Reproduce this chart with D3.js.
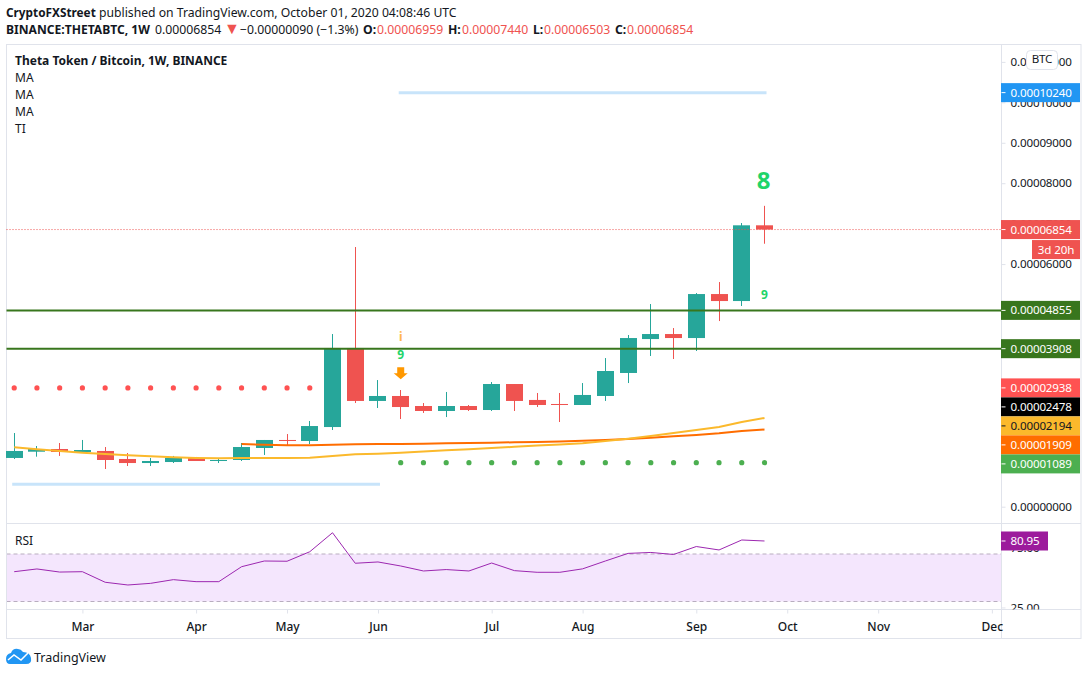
<!DOCTYPE html>
<html>
<head>
<meta charset="utf-8">
<script src="https://cdn.jsdelivr.net/npm/d3@7"></script>
<style>
    html, body { margin: 0; padding: 0; background: #fff; }
    svg { display: block; }
    text { font-family: "Noto Sans", sans-serif; fill: #131722; }
    .axisText { font-size: 11.6px; letter-spacing: -0.15px; }
</style>
</head>
<body>
<svg id="viz" width="1088" height="675"></svg>
<script>
// weekly bars, prices in satoshi (1e-8 BTC)
const weeks = ["2020-02-10","2020-02-17","2020-02-24","2020-03-02","2020-03-09","2020-03-16","2020-03-23","2020-03-30",
    "2020-04-06","2020-04-13","2020-04-20","2020-04-27","2020-05-04","2020-05-11","2020-05-18","2020-05-25","2020-06-01",
    "2020-06-08","2020-06-15","2020-06-22","2020-06-29","2020-07-06","2020-07-13","2020-07-20","2020-07-27","2020-08-03",
    "2020-08-10","2020-08-17","2020-08-24","2020-08-31","2020-09-07","2020-09-14","2020-09-21","2020-09-28"];
const opens = [1205,1360,1427,1353,1378,1180,1080,1105,1205,1130,1155,1452,1650,1625,1970,3925,2615,
    2738,2490,2367,2490,2391,3034,2640,2540,2515,2738,3307,4146,4270,4171,5259,5086,6959];
const highs = [1822,1501,1575,1650,1476,1328,1205,1255,1230,1205,1575,1650,1797,2119,4270,6422,3132,
    2886,2564,2837,2515,3083,3034,2812,2812,3058,3676,4246,5012,4418,5283,5556,7015,7440];
const lows = [1180,1237,1255,1328,932,1006,1006,1080,1130,1080,1130,1279,1525,1550,1897,2564,2441,
    2168,2318,2217,2367,2367,2367,2465,2094,2515,2615,3058,3727,3652,3851,4591,4963,6503];
const closes = [1378,1427,1353,1402,1155,1080,1130,1205,1130,1155,1476,1650,1625,1995,3925,2615,2738,
    2465,2367,2490,2391,3034,2615,2515,2515,2763,3356,4171,4270,4171,5259,5086,6959,6854];
const maYellow = [1469,1420,1377,1335,1303,1271,1246,1222,1204,1197,1204,1204,1204,1212,1254,1296,1311,
    1335,1365,1395,1422,1452,1481,1511,1538,1568,1625,1682,1748,1823,1897,1971,2095,2194];
// the orange MA starts at the 11th bar
const maOrange = [null,null,null,null,null,null,null,null,null,null,1551,1533,1518,1518,1533,1543,1551,
    1551,1558,1568,1575,1583,1593,1600,1612,1632,1650,1674,1706,1741,1773,1815,1872,1909];
const rsi = [55.1,57.4,54.8,55.1,46.2,43.9,45.3,48.4,46.7,46.7,59.3,64.1,63.9,71.9,87.9,62.2,63.3,
    59.9,55.7,56.9,55.7,62.4,56.0,54.6,54.6,57.5,64.1,70.5,71.3,69.6,76.3,73.4,81.8,80.95];

const resistance = 2938;   // red dots, first 14 bars
const support = 1089;      // green dots, last 17 bars
const stopLow = 554;       // light blue line, first 17 bars
const stopHigh = 10240;    // light blue line, last 17 bars
const levels = [4855, 3908];
// 1000-4000 sit fully behind the axis tags, so they are left out
const priceTicks = [0,5000,6000,7000,8000,9000,10000,11000];
const monthTicks = ["2020-03-02","2020-04-06","2020-05-04","2020-06-01","2020-07-06","2020-08-03","2020-09-07",
    "2020-10-05","2020-11-02","2020-12-07"];
const rsiTicks = [75, 25];
const rsiBand = [70, 30];
const axisTags = [
    {value: 2938, color: "#ff5252", text: "#fff"},
    {value: 2478, color: "#000000", text: "#fff"},
    {value: 2194, color: "#fbb92c", text: "#131722"},
    {value: 1909, color: "#ff6d00", text: "#fff"},
    {value: 1089, color: "#4caf50", text: "#fff"}
];

const UP = "#26a69a", DOWN = "#ef5350", GRID = "#e0e3eb", LEVEL = "#38761d";
const paneLeft = 6.5, paneRight = 1001.5, outer = 1081, paneTop = 44.5, rsiTop = 523.5, axisTop = 609.5, paneBottom = 638.5;

const parse = d3.utcParse("%Y-%m-%d");
const fmt = (d) => (d / 1e8).toFixed(8);
const bars = weeks.map((w, i) => ({
    date: parse(w), open: opens[i], high: highs[i], low: lows[i], close: closes[i]
}));

const x = d3.scaleUtc().domain([parse(weeks[0]), parse(weeks[33])]).range([14.2, 764.5]);
const y = d3.scaleLinear().domain([0, 11000]).range([506.7, 61.9]);
const yRsi = d3.scaleLinear().domain([30, 70]).range([601.5, 554]);

const svg = d3.select("#viz");

// header
const head1 = svg.append("text").attr("y", 17).style("font-size", "12.2px");
head1.append("tspan").attr("x", 6).style("font-size", "11.8px").style("font-weight", 700).text("CryptoFXStreet");
head1.append("tspan").attr("x", 99).text("published on TradingView.com, October 01, 2020 04:08:46 UTC");

const head2 = svg.append("text").attr("y", 34).style("font-size", "12.25px");
head2.append("tspan").attr("x", 6).style("font-size", "12.1px").style("font-weight", 700).text("BINANCE:THETABTC, 1W");
head2.append("tspan").attr("x", 155).text(fmt(closes[33]));
head2.append("tspan").attr("x", 224).style("fill", DOWN).style("font-size", "16px").text("▼");
head2.append("tspan").attr("x", 240).text("−0.00000090 (−1.3%)");
[["O:", opens[33], 363, 377], ["H:", highs[33], 448, 462], ["L:", lows[33], 533, 544], ["C:", closes[33], 615, 627]].forEach(([k, v, kx, vx]) => {
    head2.append("tspan").attr("x", kx).style("font-weight", 700).text(k);
    head2.append("tspan").attr("x", vx).style("fill", DOWN).text(fmt(v));
});

// rsi band goes under everything
svg.append("rect")
    .attr("x", paneLeft).attr("y", yRsi(rsiBand[0]))
    .attr("width", paneRight - paneLeft).attr("height", yRsi(rsiBand[1]) - yRsi(rsiBand[0]))
    .attr("fill", "#f4e6fd");
svg.selectAll(".band")
    .data(rsiBand)
    .enter()
    .append("line")
    .attr("x1", paneLeft).attr("x2", paneRight)
    .attr("y1", (d) => yRsi(d)).attr("y2", (d) => yRsi(d))
    .attr("stroke", "#b8adbf").attr("stroke-dasharray", "4 3");

// frame
svg.append("rect").attr("x", paneLeft).attr("y", paneTop).attr("width", outer - paneLeft).attr("height", paneBottom - paneTop)
    .attr("fill", "none").attr("stroke", GRID);
[rsiTop, axisTop].forEach((v) => {
    svg.append("line").attr("x1", paneLeft).attr("x2", outer).attr("y1", v).attr("y2", v).attr("stroke", GRID);
});
svg.append("line").attr("x1", paneRight).attr("x2", paneRight).attr("y1", paneTop).attr("y2", paneBottom).attr("stroke", GRID);

// legend
svg.selectAll(".legend")
    .data(["Theta Token / Bitcoin, 1W, BINANCE", "MA", "MA", "MA", "TI"])
    .enter()
    .append("text")
    .attr("x", 15)
    .attr("y", (d, i) => 65 + i * 17)
    .style("font-size", "12px")
    .style("font-weight", (d, i) => i === 0 ? 700 : 400)
    .text((d) => d);

// axes
const priceAxis = svg.append("g")
    .attr("transform", `translate(${paneRight},0)`)
    .call(d3.axisRight(y).tickValues(priceTicks).tickSize(4).tickPadding(5).tickFormat(fmt));
svg.append("clipPath").attr("id", "rsiClip").append("rect")
    .attr("x", paneRight).attr("y", rsiTop).attr("width", 80).attr("height", axisTop - rsiTop);
const rsiAxis = svg.append("g")
    .attr("clip-path", "url(#rsiClip)")
    .append("g")
    .attr("transform", `translate(${paneRight},0)`)
    .call(d3.axisRight(yRsi).tickValues(rsiTicks).tickSize(4).tickPadding(5).tickFormat((d) => d.toFixed(2)));
const timeAxis = svg.append("g")
    .attr("transform", `translate(0,${axisTop})`)
    .call(d3.axisBottom(x).tickValues(monthTicks.map(parse)).tickSize(4).tickPadding(9).tickFormat(d3.utcFormat("%b")));
[priceAxis, rsiAxis, timeAxis].forEach((g) => {
    g.attr("font-family", null).attr("font-size", null);
    g.select(".domain").remove();
    g.selectAll("line").attr("stroke", GRID);
    g.selectAll("text").attr("class", "axisText").attr("fill", null);
});
timeAxis.selectAll("text").attr("class", null).style("font-size", "12px").style("font-weight", 500);

// candles
const candle = svg.selectAll(".candle")
    .data(bars)
    .enter()
    .append("g")
    .attr("class", "candle");
candle.append("line")
    .attr("x1", (d) => Math.floor(x(d.date)) + 0.5)
    .attr("x2", (d) => Math.floor(x(d.date)) + 0.5)
    .attr("y1", (d) => y(d.high))
    .attr("y2", (d) => y(d.low))
    .attr("stroke", (d) => d.close >= d.open ? UP : DOWN);
candle.append("rect")
    .attr("x", (d) => Math.floor(x(d.date)) - 8)
    .attr("width", 17)
    .attr("y", (d) => y(Math.max(d.open, d.close)))
    .attr("height", (d) => Math.max(1, Math.abs(y(d.open) - y(d.close))))
    .attr("fill", (d) => d.close >= d.open ? UP : DOWN);

// last price line
svg.append("line")
    .attr("x1", paneLeft).attr("x2", paneRight)
    .attr("y1", y(closes[33])).attr("y2", y(closes[33]))
    .attr("stroke", DOWN).attr("stroke-dasharray", "1 2");

// moving averages
const maLine = d3.line()
    .defined((d) => d.v !== null)
    .x((d) => x(d.date))
    .y((d) => y(d.v));
svg.append("path")
    .datum(bars.map((b, i) => ({date: b.date, v: maOrange[i]})))
    .attr("d", maLine).attr("fill", "none").attr("stroke", "#ff6d00").attr("stroke-width", 2);
svg.append("path")
    .datum(bars.map((b, i) => ({date: b.date, v: maYellow[i]})))
    .attr("d", maLine).attr("fill", "none").attr("stroke", "#fbb92c").attr("stroke-width", 2);

// stop levels
[[0, 16, stopLow], [17, 33, stopHigh]].forEach(([a, b, v]) => {
    svg.append("line")
        .attr("x1", x(bars[a].date) - 2).attr("x2", x(bars[b].date) + 2)
        .attr("y1", y(v)).attr("y2", y(v))
        .attr("stroke", "#c8e4fa").attr("stroke-width", 3);
});

// dots
svg.selectAll(".dotR")
    .data(bars.slice(0, 14))
    .enter()
    .append("circle")
    .attr("cx", (d) => x(d.date)).attr("cy", y(resistance)).attr("r", 2.6).attr("fill", "#ff5252");
svg.selectAll(".dotG")
    .data(bars.slice(17))
    .enter()
    .append("circle")
    .attr("cx", (d) => x(d.date)).attr("cy", y(support)).attr("r", 2.6).attr("fill", "#4caf50");

// horizontal levels
svg.selectAll(".level")
    .data(levels)
    .enter()
    .append("line")
    .attr("x1", paneLeft).attr("x2", paneRight)
    .attr("y1", (d) => y(d)).attr("y2", (d) => y(d))
    .attr("stroke", LEVEL).attr("stroke-width", 2);

// sequential counts above and below bars
const marks = [
    {i: 17, price: 4197, label: "i", size: 12, color: "#ffb74d"},
    {i: 17, price: 3770, label: "9", size: 12, color: "#1fd46a"},
    {i: 33, price: 8090, label: "8", size: 24, color: "#1fd46a"},
    {i: 33, price: 5260, label: "9", size: 12, color: "#1fd46a"}
];
svg.selectAll(".mark")
    .data(marks)
    .enter()
    .append("text")
    .attr("x", (d) => x(bars[d.i].date) - (d.size > 20 ? 1 : 0))
    .attr("y", (d) => y(d.price))
    .attr("text-anchor", "middle")
    .attr("dominant-baseline", "central")
    .style("font-size", (d) => d.size + "px")
    .style("font-weight", 700)
    .style("fill", (d) => d.color)
    .text((d) => d.label);

// down arrow over bar 17
svg.append("path")
    .attr("transform", `translate(${x(bars[17].date)},${y(3300)})`)
    .attr("d", "M-3.5,-6 H3.5 V0 H7 L0,6 L-7,0 H-3.5 Z")
    .attr("fill", "#ff9800");

// axis tags, stacked where they would overlap
let prevY = -Infinity;
const placed = axisTags.map((t) => {
    const py = Math.max(y(t.value), prevY + 19);
    prevY = py;
    return Object.assign({py}, t);
});
const tags = placed.concat([
    {value: stopHigh, py: y(stopHigh), color: "#2196f3", text: "#fff"},
    {value: closes[33], py: y(closes[33]), color: DOWN, text: "#fff"},
    {value: levels[0], py: y(levels[0]), color: LEVEL, text: "#fff"},
    {value: levels[1], py: y(levels[1]), color: LEVEL, text: "#fff"}
]);
const tag = svg.selectAll(".tag").data(tags).enter().append("g")
    .attr("transform", (d) => `translate(${paneRight},${d.py})`);
tag.append("rect").attr("x", -0.5).attr("y", -9.5).attr("width", 79).attr("height", 19).attr("fill", (d) => d.color);
tag.append("line").attr("x1", 0).attr("x2", 4).attr("stroke", (d) => d.text);
tag.append("text").attr("class", "axisText").attr("x", 9).attr("dy", "0.35em").style("fill", (d) => d.text)
    .text((d) => fmt(d.value));

// countdown tag
svg.append("rect").attr("x", 1032).attr("y", y(closes[33]) + 10.5).attr("width", 48).attr("height", 19).attr("fill", DOWN);
svg.append("text").attr("class", "axisText").attr("x", 1056).attr("y", y(closes[33]) + 20).attr("dy", "0.35em").attr("text-anchor", "middle")
    .style("fill", "#fff").text("3d 20h");

// rsi line and tag
svg.append("path")
    .datum(bars.map((b, i) => ({date: b.date, v: rsi[i]})))
    .attr("d", d3.line().x((d) => x(d.date)).y((d) => yRsi(d.v)))
    .attr("fill", "none").attr("stroke", "#9c27b0").attr("stroke-width", 1);
svg.append("text").attr("x", 15).attr("y", 545).style("font-size", "12px").text("RSI");
const rsiTag = svg.append("g").attr("transform", `translate(${paneRight},${yRsi(rsi[33])})`);
rsiTag.append("rect").attr("x", -0.5).attr("y", -9.5).attr("width", 47).attr("height", 19).attr("fill", "#9c1b9c");
rsiTag.append("line").attr("x1", 0).attr("x2", 4).attr("stroke", "#fff");
rsiTag.append("text").attr("class", "axisText").attr("x", 9).attr("dy", "0.35em").style("fill", "#fff").text(rsi[33].toFixed(2));

// currency badge
svg.append("rect").attr("x", 1026.5).attr("y", 50.5).attr("width", 31).attr("height", 19).attr("rx", 4)
    .attr("fill", "#fff").attr("stroke", GRID);
svg.append("text").attr("class", "axisText").attr("x", 1042).attr("y", 59).attr("dy", "0.35em").attr("text-anchor", "middle")
    .text("BTC");

// logo
svg.append("path")
    .attr("d", "M6,659 Q6,654 11,653 Q13,648 18,649 Q21,649 23,652 Q30,652 31,658 Q32,664 26,664 H10 Q6,664 6,659 Z")
    .attr("fill", "#2196f3");
svg.append("path")
    .attr("d", "M8,660 L14,655 L21,660 L28,653")
    .attr("fill", "none").attr("stroke", "#fff").attr("stroke-width", 1.5);
svg.append("text").attr("x", 34).attr("y", 662).style("font-size", "12.5px").text("TradingView");
</script>
</body>
</html>
